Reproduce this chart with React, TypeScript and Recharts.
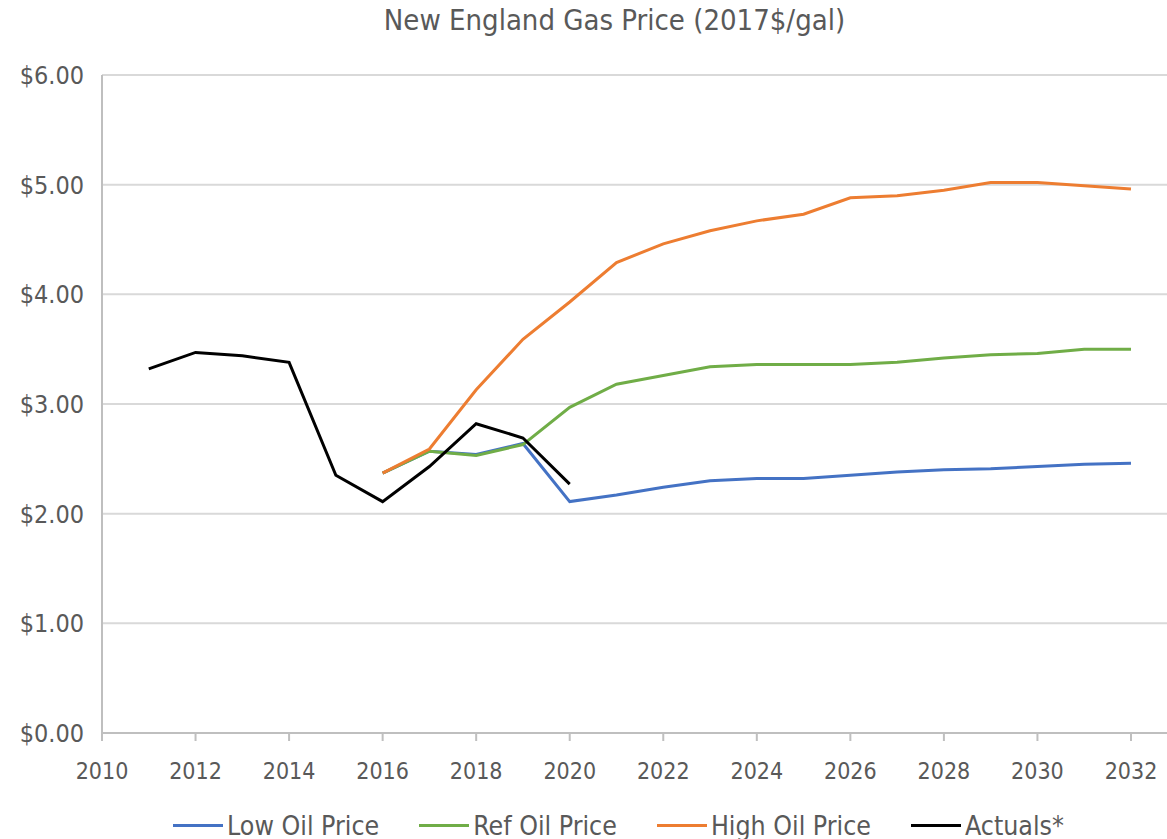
import React from 'react';
import { LineChart, Line, XAxis, YAxis, CartesianGrid, Legend } from 'recharts';

const years = [2011, 2012, 2013, 2014, 2015, 2016, 2017, 2018, 2019, 2020, 2021,
  2022, 2023, 2024, 2025, 2026, 2027, 2028, 2029, 2030, 2031, 2032];

const actuals = [3.32, 3.47, 3.44, 3.38, 2.35, 2.11, 2.43, 2.82, 2.69, 2.27];

const lowOil = [null, null, null, null, null, 2.37, 2.57, 2.54, 2.64, 2.11, 2.17,
  2.24, 2.30, 2.32, 2.32, 2.35, 2.38, 2.40, 2.41, 2.43, 2.45, 2.46];

const refOil = [null, null, null, null, null, 2.37, 2.57, 2.53, 2.63, 2.97, 3.18,
  3.26, 3.34, 3.36, 3.36, 3.36, 3.38, 3.42, 3.45, 3.46, 3.50, 3.50];

const highOil = [null, null, null, null, null, 2.37, 2.59, 3.13, 3.59, 3.93, 4.29,
  4.46, 4.58, 4.67, 4.73, 4.88, 4.90, 4.95, 5.02, 5.02, 4.99, 4.96];

const seriesNames = ['Low Oil Price', 'Ref Oil Price', 'High Oil Price', 'Actuals*'];

const xTicks = [2010, 2012, 2014, 2016, 2018, 2020, 2022, 2024, 2026, 2028, 2030, 2032];
const yTicks = [0, 1, 2, 3, 4, 5, 6];

const data = years.map((year, i) => ({
  year,
  low: lowOil[i],
  ref: refOil[i],
  high: highOil[i],
  actual: i < actuals.length ? actuals[i] : null,
}));

const FONT = '"DejaVu Sans Condensed", "Noto Sans", sans-serif';
const TEXT = '#595959';

const renderLegend = ({ payload }: any) => {
  const items = [...(payload || [])].sort(
    (a: any, b: any) => seriesNames.indexOf(a.value) - seriesNames.indexOf(b.value)
  );
  return (
    <div style={{
      display: 'flex', justifyContent: 'center', alignItems: 'center',
      height: 28, paddingLeft: 70,
    }}>
      {items.map((p: any) => (
        <div key={p.value} style={{ display: 'flex', alignItems: 'center', margin: '0 20px' }}>
          <div style={{ width: 50, height: 3, background: p.color, marginRight: 4 }} />
          <span style={{ fontFamily: FONT, fontSize: 26.5, color: TEXT }}>{p.value}</span>
        </div>
      ))}
    </div>
  );
};

export default function App() {
  return (
    <div style={{ position: 'absolute', left: 0, top: 0, width: 1167, height: 839, background: '#fff' }}>
      <div style={{
        position: 'absolute', top: 3, left: 0, width: 1229, textAlign: 'center',
        fontFamily: FONT, fontSize: 29, color: TEXT,
      }}>
        New England Gas Price (2017$/gal)
      </div>
      <LineChart
        width={1167}
        height={839}
        data={data}
        margin={{ top: 75, right: 0, left: 0, bottom: 0 }}
      >
        <CartesianGrid horizontal vertical={false} stroke="#d9d9d9" strokeWidth={2} />
        <XAxis
          dataKey="year"
          type="number"
          domain={[2010, 2032.77]}
          ticks={xTicks}
          allowDataOverflow
          height={78}
          tickSize={8}
          tickMargin={22}
          stroke="#bfbfbf"
          strokeWidth={2}
          tick={{ fill: TEXT, fontSize: 23, fontFamily: FONT }}
        />
        <YAxis
          domain={[0, 6]}
          ticks={yTicks}
          width={102}
          tickLine={false}
          tickMargin={12}
          stroke="#bfbfbf"
          strokeWidth={2}
          tickFormatter={(v: number) => `$${v.toFixed(2)}`}
          tick={{ fill: TEXT, fontSize: 25, fontFamily: FONT }}
        />
        <Legend content={renderLegend} wrapperStyle={{ bottom: 0, left: 0, width: 1167 }} />
        <Line type="linear" dataKey="low" name={seriesNames[0]} stroke="#4472C4" strokeWidth={3} dot={false} isAnimationActive={false} />
        <Line type="linear" dataKey="ref" name={seriesNames[1]} stroke="#70AD47" strokeWidth={3} dot={false} isAnimationActive={false} />
        <Line type="linear" dataKey="high" name={seriesNames[2]} stroke="#ED7D31" strokeWidth={3} dot={false} isAnimationActive={false} />
        <Line type="linear" dataKey="actual" name={seriesNames[3]} stroke="#000000" strokeWidth={3} dot={false} isAnimationActive={false} />
      </LineChart>
    </div>
  );
}
